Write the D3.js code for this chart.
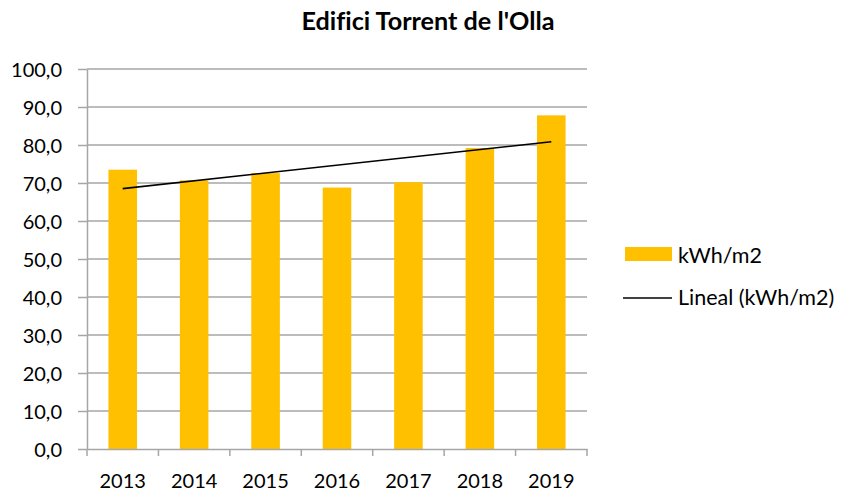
<!DOCTYPE html>
<html><head><meta charset="utf-8">
<script src="https://cdn.jsdelivr.net/npm/d3@7"></script>
<style>body{margin:0;background:#fff}svg{display:block}text{font-family:Lato,"Open Sans",sans-serif;font-variant-ligatures:none;font-feature-settings:"liga" 0}</style>
</head><body><svg id="c" width="841" height="491"></svg>
<script>
const title = "Edifici Torrent de l'Olla";
const years = ["2013","2014","2015","2016","2017","2018","2019"];
const values = [73.5, 70.7, 72.6, 68.8, 70.2, 79.2, 87.8];
const yTicks = [0,10,20,30,40,50,60,70,80,90,100];
const seriesName = "kWh/m2";
const trendName = "Lineal (kWh/m2)";

const svg = d3.select("#c");
const L = 87, R = 587, T = 69, B = 449;
const x = d3.scaleBand().domain(years).range([L, R]).paddingInner(0.6).paddingOuter(0.3);
const y = d3.scaleLinear().domain([0, 100]).range([B, T]);
const fmt = v => d3.format(".1f")(v).replace(".", ",");
const grid = "#a6a6a6";

// gridlines
svg.append("g").selectAll("line").data(yTicks.filter(d => d > 0)).join("line")
  .attr("x1", L).attr("x2", R).attr("y1", d => y(d)).attr("y2", d => y(d))
  .attr("stroke", grid).attr("stroke-width", 1.5);

// bars
svg.append("g").selectAll("rect").data(values).join("rect")
  .attr("x", (d, i) => x(years[i])).attr("width", x.bandwidth())
  .attr("y", d => y(d)).attr("height", d => B - y(d)).attr("fill", "#ffc000");

// y axis
const ya = svg.append("g").attr("transform", `translate(${L},0)`)
  .call(d3.axisLeft(y).tickValues(yTicks).tickFormat(fmt).tickSize(9).tickSizeOuter(0));
ya.select(".domain").attr("stroke", grid).attr("stroke-width", 1.5);
ya.selectAll(".tick line").attr("stroke", grid).attr("stroke-width", 1.5);
ya.selectAll(".tick text").attr("font-size", 20).attr("fill", "#000").attr("x", -25).attr("dy", "0.36em");

// x axis
const xa = svg.append("g").attr("transform", `translate(0,${B})`)
  .call(d3.axisBottom(x).tickSize(0).tickSizeOuter(0));
xa.select(".domain").attr("stroke", grid).attr("stroke-width", 1.5);
xa.selectAll(".tick text").attr("font-size", 20).attr("fill", "#000").attr("y", 39).attr("dy", 0);
const step = x.step();
svg.append("g").selectAll("line").data(d3.range(years.length + 1)).join("line")
  .attr("x1", i => L + i * step).attr("x2", i => L + i * step)
  .attr("y1", B).attr("y2", B + 7).attr("stroke", grid).attr("stroke-width", 1.5);

// linear trend (least squares from data)
const n = values.length, xs = d3.range(n);
const mx = d3.mean(xs), my = d3.mean(values);
const slope = d3.sum(xs, i => (i - mx) * (values[i] - my)) / d3.sum(xs, i => (i - mx) ** 2);
const icpt = my - slope * mx;
const cx = i => x(years[i]) + x.bandwidth() / 2;
svg.append("line").attr("x1", cx(0)).attr("y1", y(icpt)).attr("x2", cx(n - 1)).attr("y2", y(icpt + slope * (n - 1)))
  .attr("stroke", "#000").attr("stroke-width", 1.6);

// title (fit to the reference width)
const tt = svg.append("text").attr("x", 428).attr("y", 30).attr("text-anchor", "middle")
  .attr("font-size", 20).attr("font-weight", "bold").text(title);
const tw = tt.node().getComputedTextLength();
tt.attr("font-size", Math.min(26, 20 * 253 / tw));

// legend
svg.append("rect").attr("x", 625).attr("y", 247).attr("width", 47).attr("height", 14).attr("fill", "#ffc000");
svg.append("text").attr("x", 678).attr("y", 263).attr("font-size", 21.5).text(seriesName);
svg.append("line").attr("x1", 623).attr("x2", 672).attr("y1", 298).attr("y2", 298).attr("stroke", "#000").attr("stroke-width", 1.6);
svg.append("text").attr("x", 678).attr("y", 305).attr("font-size", 21.5).text(trendName);
</script></body></html>
